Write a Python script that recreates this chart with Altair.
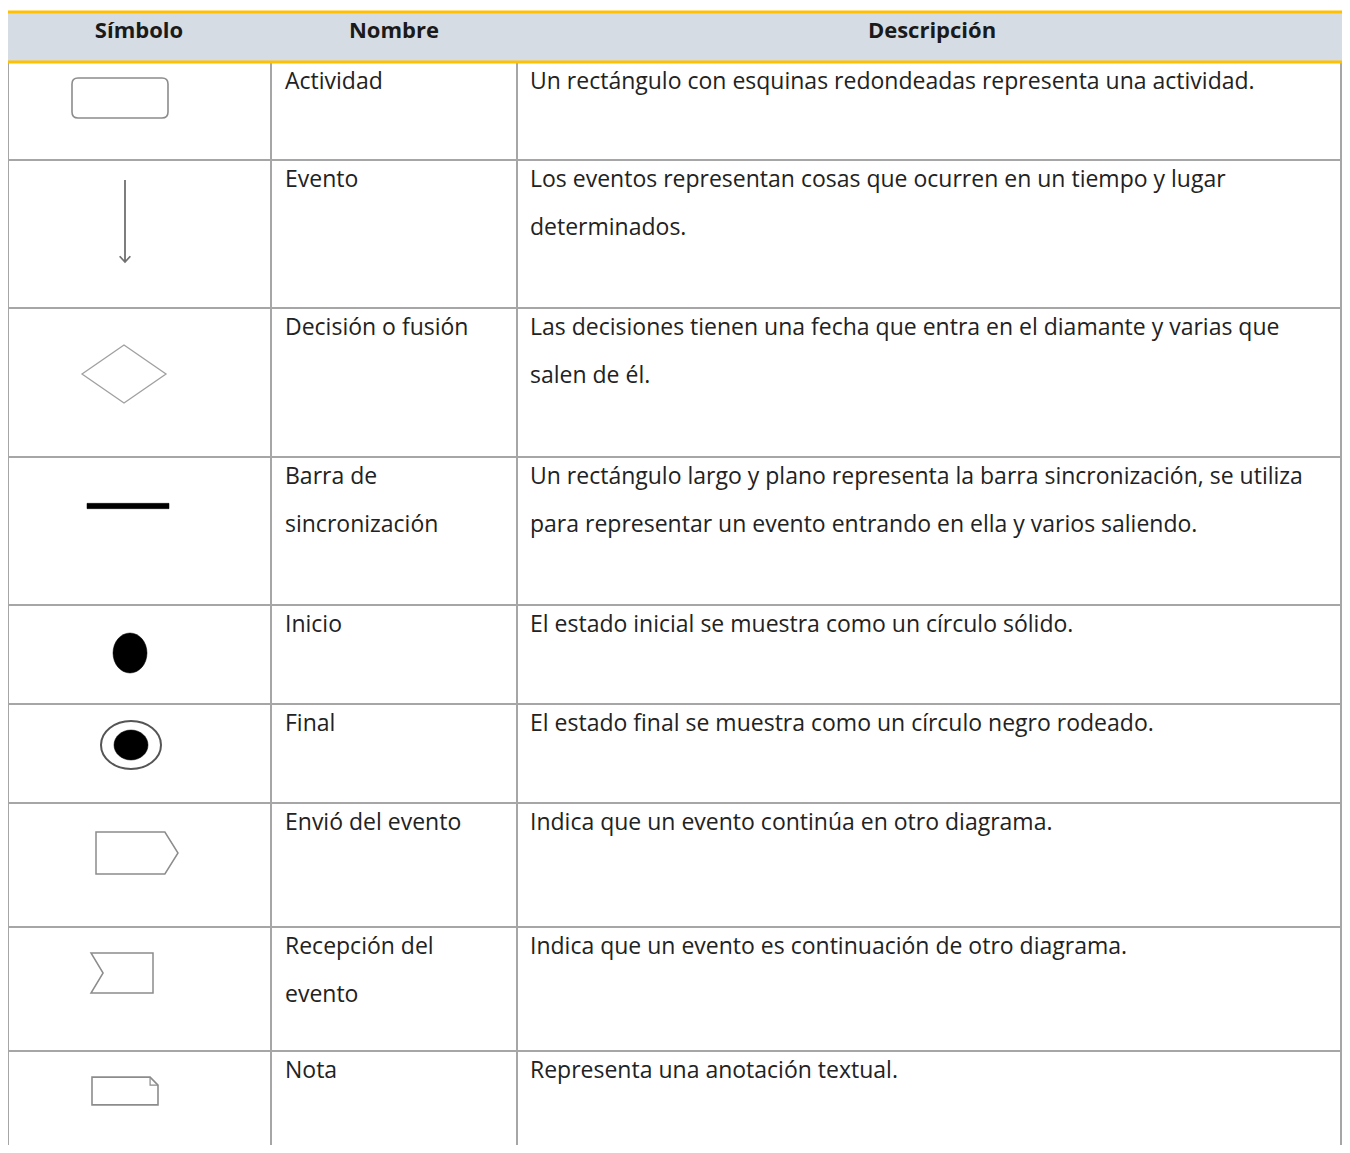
import altair as alt
import pandas as pd

# ---------------- data ----------------
headers = ["Símbolo", "Nombre", "Descripción"]
symbol_keys = ["actividad", "evento", "decision", "barra", "inicio", "final_out",
               "envio", "recepcion", "nota"]
nombres = [
    ["Actividad"],
    ["Evento"],
    ["Decisión o fusión"],
    ["Barra de", "sincronización"],
    ["Inicio"],
    ["Final"],
    ["Envió del evento"],
    ["Recepción del", "evento"],
    ["Nota"],
]
descripciones = [
    ["Un rectángulo con esquinas redondeadas representa una actividad."],
    ["Los eventos representan cosas que ocurren en un tiempo y lugar", "determinados."],
    ["Las decisiones tienen una fecha que entra en el diamante y varias que", "salen de él."],
    ["Un rectángulo largo y plano representa la barra sincronización, se utiliza",
     "para representar un evento entrando en ella y varios saliendo."],
    ["El estado inicial se muestra como un círculo sólido."],
    ["El estado final se muestra como un círculo negro rodeado."],
    ["Indica que un evento continúa en otro diagrama."],
    ["Indica que un evento es continuación de otro diagrama."],
    ["Representa una anotación textual."],
]

# ---------------- layout (pixels of the page) ----------------
X0, X1 = 8, 1342
Y0, Y1 = 8, 1145
W, H = X1 - X0, Y1 - Y0
col_bounds = [8, 271, 517, 1341]
header_top, header_bot = 12, 62
row_bounds = [62, 160, 308, 457, 605, 704, 803, 927, 1051, 1145]
line_gap = 48
first_line = 20

# symbol placement inside its cell (center x, offset from row top)
sym_place = {
    "actividad": (120, 36), "evento": (125, 61), "decision": (124, 66),
    "barra": (128, 49), "inicio": (130, 48), "final_out": (131, 41),
    "final_in": (131, 41), "envio": (137, 50), "recepcion": (122, 46),
    "nota": (125, 40), "nota_fold": (125, 40),
}
# shape path (unit coords), width in px, fill, stroke, strokeWidth
sym_style = {
    "actividad": ("M -0.875 -0.4167 L 0.875 -0.4167 Q 1 -0.4167 1 -0.2917 L 1 0.2917 "
                  "Q 1 0.4167 0.875 0.4167 L -0.875 0.4167 Q -1 0.4167 -1 0.2917 "
                  "L -1 -0.2917 Q -1 -0.4167 -0.875 -0.4167 Z", 96, "#ffffff", "#8c8c8c", 1.6),
    "evento": ("M 0 -1 L 0 1 M -0.13 0.86 L 0 1 L 0.13 0.86", 82, "transparent", "#707070", 1.8),
    "decision": ("M -1 0 L 0 -0.69 L 1 0 L 0 0.69 Z", 84, "transparent", "#a0a0a0", 1.3),
    "barra": ("M -1 -0.065 L 1 -0.065 L 1 0.065 L -1 0.065 Z", 82, "#000000", "#000000", 0.5),
    "inicio": ("M -0.85 0 A 0.85 1 0 1 0 0.85 0 A 0.85 1 0 1 0 -0.85 0 Z", 40, "#000000", "#000000", 0.5),
    "final_out": ("M -1 0 A 1 0.8 0 1 0 1 0 A 1 0.8 0 1 0 -1 0 Z", 60, "transparent", "#555555", 2),
    "final_in": ("M -0.567 0 A 0.567 0.5 0 1 0 0.567 0 A 0.567 0.5 0 1 0 -0.567 0 Z", 60, "#000000", "#000000", 0.5),
    "envio": ("M -1 -0.512 L 0.68 -0.512 L 1 0 L 0.68 0.512 L -1 0.512 Z", 82, "#ffffff", "#8c8c8c", 1.5),
    "recepcion": ("M -1 -0.645 L 1 -0.645 L 1 0.645 L -1 0.645 L -0.61 0 Z", 62, "#ffffff", "#8c8c8c", 1.5),
    "nota": ("M -1 -0.42 L 0.76 -0.42 L 1 -0.18 L 1 0.42 L -1 0.42 Z", 66, "#ffffff", "#8c8c8c", 1.6),
    "nota_fold": ("M 0.76 -0.42 L 0.76 -0.18 L 1 -0.18", 66, "transparent", "#8c8c8c", 1.2),
}

# ---------------- tables ----------------
sym_rows = []
for i, key in enumerate(symbol_keys):
    keys = [key]
    if key == "final_out":
        keys = ["final_out", "final_in"]
    if key == "nota":
        keys = ["nota", "nota_fold"]
    for k in keys:
        cx, dy = sym_place[k]
        path, wpx, fill, stroke, sw = sym_style[k]
        sym_rows.append(dict(key=k, x=cx, y=row_bounds[i] + dy, shape=path,
                             size=wpx * wpx, fill=fill, stroke=stroke, sw=sw))
sym_df = pd.DataFrame(sym_rows)

text_rows = []
for i in range(len(nombres)):
    for j, t in enumerate(nombres[i]):
        text_rows.append(dict(x=col_bounds[1] + 14, y=row_bounds[i] + first_line + j * line_gap, t=t))
    for j, t in enumerate(descripciones[i]):
        text_rows.append(dict(x=col_bounds[2] + 13, y=row_bounds[i] + first_line + j * line_gap, t=t))
text_df = pd.DataFrame(text_rows)

head_df = pd.DataFrame(dict(
    t=headers,
    x=[139, 394, 932],
    y=[31] * 3,
))

vlines = pd.DataFrame(dict(x=col_bounds, y=[header_bot] * 4, y2=[Y1] * 4))
hlines = pd.DataFrame(dict(x=[col_bounds[0]] * (len(row_bounds) - 2),
                           x2=[col_bounds[-1]] * (len(row_bounds) - 2),
                           y=row_bounds[1:-1]))
yellow = pd.DataFrame(dict(x=[8, 8], x2=[X1, X1], y=[header_top, header_bot]))
head_bg = pd.DataFrame(dict(x=[8], x2=[X1], y=[header_top], y2=[header_bot]))

xs = alt.Scale(domain=[X0, X1], range=[0, W], nice=False, zero=False)
ys = alt.Scale(domain=[Y0, Y1], reverse=True, nice=False, zero=False)
noax = None


def X(f="x"):
    return alt.X(f"{f}:Q", scale=xs, axis=noax)


def Y(f="y"):
    return alt.Y(f"{f}:Q", scale=ys, axis=noax)


bg = alt.Chart(head_bg).mark_rect(color="#d6dce4").encode(
    x=X(), x2="x2:Q", y=Y(), y2="y2:Q")
vr = alt.Chart(vlines).mark_rule(color="#a6a6a6", strokeWidth=2).encode(
    x=X(), y=Y(), y2="y2:Q")
hr = alt.Chart(hlines).mark_rule(color="#a6a6a6", strokeWidth=2).encode(
    x=X(), x2="x2:Q", y=Y())
yr = alt.Chart(yellow).mark_rule(color="#ffc000", strokeWidth=3).encode(
    x=X(), x2="x2:Q", y=Y())

symbols = alt.Chart(sym_df).mark_point(opacity=1, fillOpacity=1, strokeOpacity=1).encode(
    x=X(), y=Y(),
    shape=alt.Shape("key:N", scale=alt.Scale(domain=list(sym_df["key"]), range=list(sym_df["shape"])), legend=None),
    size=alt.Size("size:Q", scale=None),
    fill=alt.Fill("fill:N", scale=None),
    stroke=alt.Stroke("stroke:N", scale=None),
    strokeWidth=alt.StrokeWidth("sw:Q", scale=None),
)

FONT = "Open Sans"
heads = alt.Chart(head_df).mark_text(font=FONT, fontSize=22, fontWeight="bold",
                                     color="#1a1a1a", align="center", baseline="middle").encode(
    x=X(), y=Y(), text="t:N")
body = alt.Chart(text_df).mark_text(font=FONT, fontSize=23, color="#222222",
                                    align="left", baseline="middle").encode(
    x=X(), y=Y(), text="t:N")

chart = alt.layer(bg, vr, hr, yr, symbols, heads, body).properties(
    width=W, height=H,
    autosize=alt.AutoSizeParams(type="none"),
    padding=0,
).configure_view(stroke=None)

chart.save("out.html", embed_options={"renderer": "svg", "actions": False})
